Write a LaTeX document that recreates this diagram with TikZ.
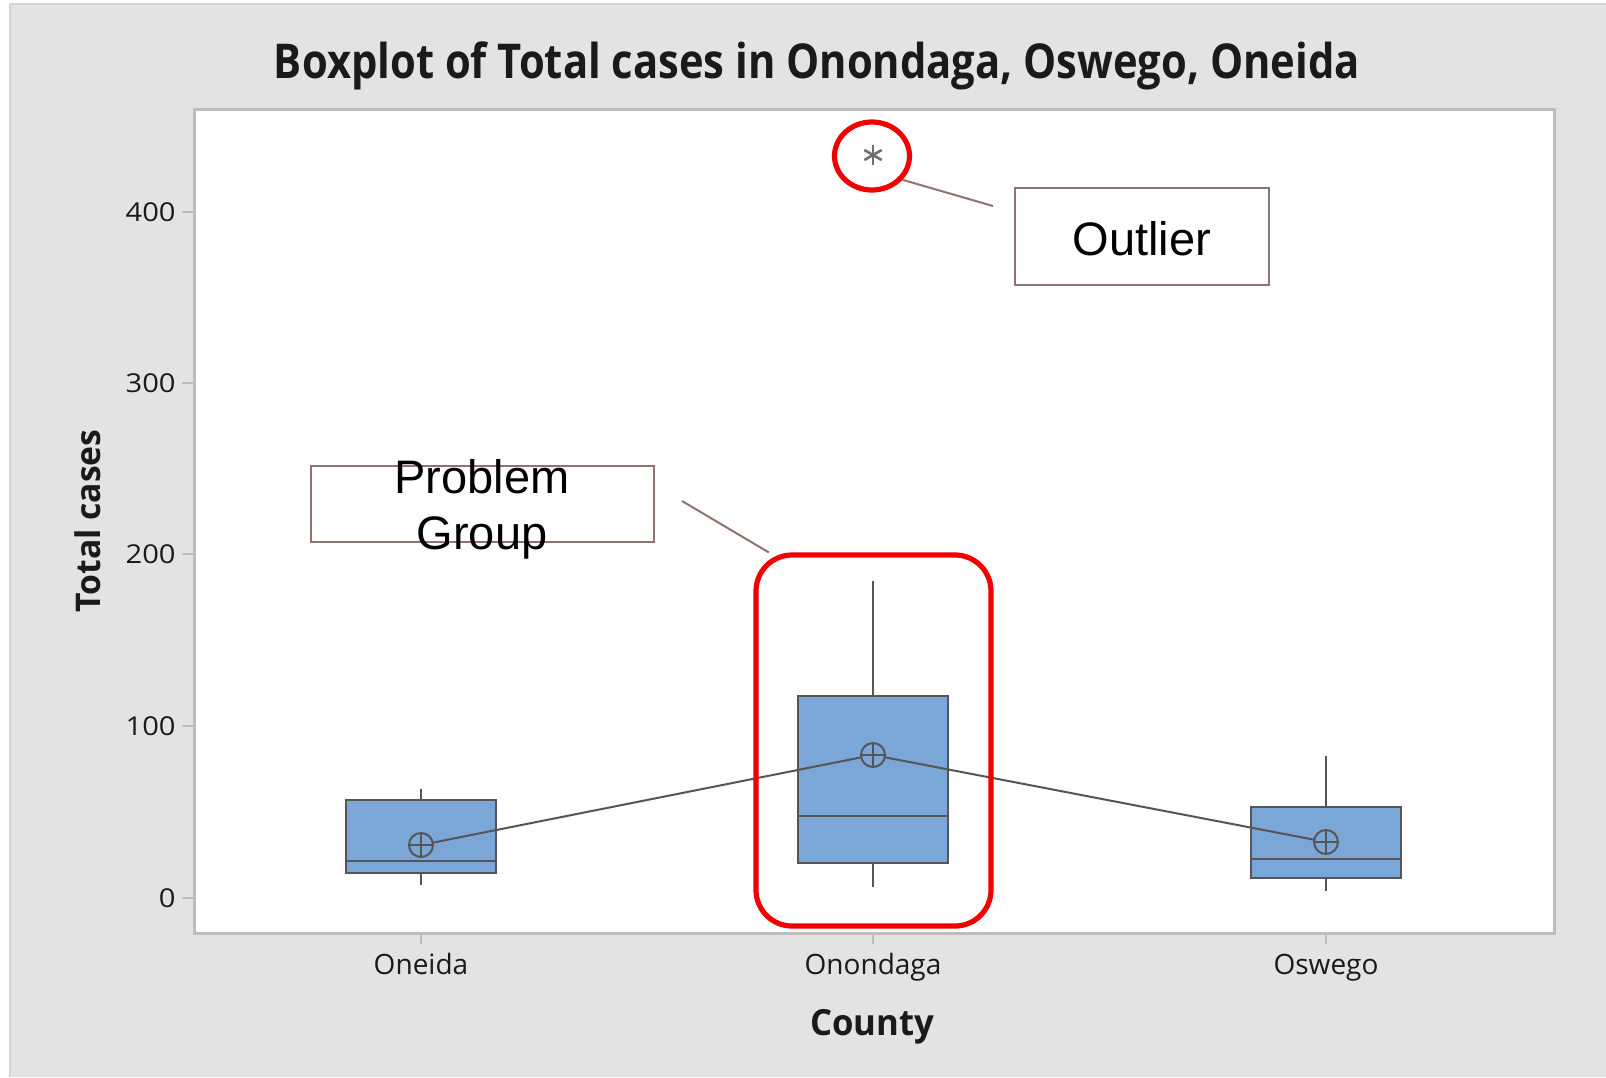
\documentclass[tikz,border=0pt]{standalone}
\usepackage{fontspec}
\usepackage{graphicx}
\setmainfont{Open Sans}
\newfontfamily\arialf{Liberation Sans}
\usetikzlibrary{shapes.geometric,calc}
\definecolor{bg}{HTML}{E3E3E3}
\definecolor{bgedge}{HTML}{D4D4D4}
\definecolor{boxblue}{HTML}{7BA7D8}
\definecolor{dgray}{HTML}{555555}
\definecolor{framegray}{HTML}{BDBDBD}
\definecolor{annot}{HTML}{8E7470}
\definecolor{hired}{HTML}{F20000}
\definecolor{txt}{HTML}{1A1A1A}
\begin{document}
\begin{tikzpicture}[x=0.5pt,y=-0.5pt,
  whisk/.style={draw=dgray,line width=1pt},
  boxq/.style={fill=boxblue,draw=dgray,line width=1.3pt},
  medline/.style={draw=dgray,line width=1.4pt},
  meanline/.style={draw=dgray,line width=1pt},
  ytl/.style={anchor=east,inner sep=0pt,text=txt,font=\fontsize{13pt}{15pt}\selectfont},
  xtl/.style={anchor=base,inner sep=0pt,text=txt,font=\fontsize{14pt}{16pt}\selectfont},
  tickmk/.style={draw=framegray,line width=1pt},
  annotbox/.style={draw=annot,line width=1.2pt,inner sep=0pt,fill=white},
  callout/.style={draw=annot,line width=1pt},
  hilite/.style={draw=hired,line width=2.6pt},
  annottext/.style={inner sep=0pt,text=black,font=\arialf\fontsize{23.5pt}{28pt}\selectfont,align=center}
]
\useasboundingbox (0,0) rectangle (1606,1077);
% background
\fill[white] (0,0) rectangle (1606,1077);
\fill[bg] (9,3) rectangle (1606,1077);
\draw[bgedge,line width=1pt] (10,1077) -- (10,4) -- (1606,4);
% plot area
\fill[white] (194,109) rectangle (1554,933);
\draw[framegray,line width=1.5pt] (194,109) rectangle (1554,933);
% title
\node[text=txt,inner sep=0pt,font=\fontsize{24pt}{28pt}\selectfont\bfseries] (title) at (817,66)
  {\resizebox{543pt}{\height}{Boxplot of Total cases in Onondaga, Oswego, Oneida}};
% y axis ticks
\foreach \v/\yy in {0/898,100/726,200/554,300/383,400/212}{
  \draw[tickmk] (182,\yy) -- (194,\yy);
  \node[ytl] (yt\v) at (176,\yy) {\scalebox{1.12}[1]{\v}};
}
\node[rotate=90,inner sep=0pt,text=txt,font=\fontsize{17pt}{20pt}\selectfont\bfseries] (ylab) at (88,521)
  {\resizebox{91.5pt}{\height}{Total cases}};
% x axis ticks
\foreach \xx in {421,873,1326}{\draw[tickmk] (\xx,933) -- (\xx,944);}
\node[xtl] (xOneida) at (421,974) {Oneida};
\node[xtl] (xOnondaga) at (873,974) {Onondaga};
\node[xtl] (xOswego) at (1326,974) {Oswego};
\node[inner sep=0pt,text=txt,font=\fontsize{18pt}{20pt}\selectfont\bfseries] (xlab) at (872,1027)
  {\resizebox{62pt}{\height}{County}};
% Oneida
\draw[whisk] (421,789) -- (421,800);
\draw[whisk] (421,873) -- (421,885);
\path[boxq] (346,800) rectangle (496,873);
\draw[medline] (346,861) -- (496,861);
% Onondaga
\draw[whisk] (873,581) -- (873,696);
\draw[whisk] (873,863) -- (873,887);
\path[boxq] (798,696) rectangle (948,863);
\draw[medline] (798,816) -- (948,816);
% Oswego
\draw[whisk] (1326,756) -- (1326,807);
\draw[whisk] (1326,878) -- (1326,891);
\path[boxq] (1251,807) rectangle (1401,878);
\draw[medline] (1251,859) -- (1401,859);
% mean connect line
\draw[meanline] (421,845) -- (873,755) -- (1326,842);
\foreach \xx/\yy in {421/845,873/755,1326/842}{
  \filldraw[fill=boxblue,draw=dgray,line width=1pt] (\xx,\yy) circle[radius=12];
  \draw[dgray,line width=1pt] (\xx-12,\yy) -- (\xx+12,\yy) (\xx,\yy-12) -- (\xx,\yy+12);
}
% outlier asterisk
\foreach \a in {90,30,150}{
  \draw[dgray!85,line width=1.3pt] (873,155) ++(\a:10) -- ++(\a+180:20);
}
% highlight ellipse around outlier
\node[hilite,ellipse,minimum width=37.5pt,minimum height=34pt,inner sep=0pt] (outc) at (872,156) {};
% highlight rounded rectangle
\node[hilite,rectangle,rounded corners=18pt,minimum width=117.5pt,minimum height=185.5pt,inner sep=0pt] (grp) at (873.5,740.5) {};
% Outlier annotation
\node[annotbox,minimum width=127pt,minimum height=48.5pt] (outbox) at (1142,236.5) {};
\node[annottext] (outtext) at (1142,239) {Outlier};
\coordinate (olend) at (993,206);
\draw[callout] (outc.-38) -- (olend);
% Problem Group annotation
\node[annotbox,fill=none,minimum width=171.5pt,minimum height=38pt] (pgbox) at (482.5,504) {};
\node[annottext] (pgtext) at (482,509) {Problem\\Group};
\coordinate (pgstart) at (682,501);
\draw[callout] (pgstart) -- ($(grp.north west)!0.064!(grp.north east)$);
\end{tikzpicture}
\end{document}
